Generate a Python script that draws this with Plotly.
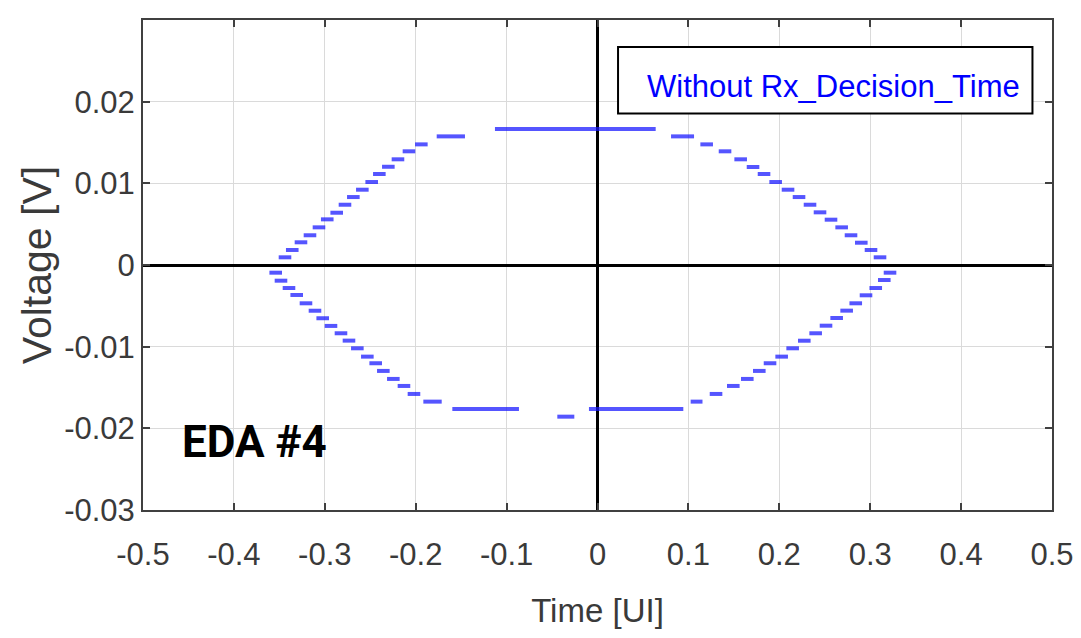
import plotly.graph_objects as go

# ---- data ----
upper_left_x = [-0.3438, -0.3358, -0.3262, -0.3163, -0.3064, -0.2973, -0.2869, -0.2778,
                -0.2686, -0.2587, -0.2484, -0.2400, -0.2301, -0.2195, -0.2074, -0.1938]
upper_left_y = [0.00094, 0.00184, 0.00278, 0.00364, 0.00461, 0.00559, 0.00640, 0.00738,
                0.00832, 0.00922, 0.01016, 0.01114, 0.01203, 0.01294, 0.01392, 0.01477]

upper_right_x = [0.1201, 0.1403, 0.1575, 0.1711, 0.1832, 0.1960, 0.2096, 0.2217,
                 0.2338, 0.2448, 0.2569, 0.2686, 0.2789, 0.2902, 0.3009, 0.3108]
upper_right_y = [0.01477, 0.01392, 0.01294, 0.01200, 0.01114, 0.01016, 0.00922, 0.00832,
                 0.00738, 0.00645, 0.00555, 0.00461, 0.00364, 0.00273, 0.00184, 0.00094]

lower_left_x = [-0.3540, -0.3482, -0.3394, -0.3309, -0.3207, -0.3108, -0.3023, -0.2932, -0.2822,
                -0.2734, -0.2642, -0.2532, -0.2440, -0.2356, -0.2246, -0.2129, -0.2019]
lower_left_y = [-0.00094, -0.00192, -0.00282, -0.00367, -0.00469, -0.00560, -0.00652, -0.00746, -0.00836,
                -0.00926, -0.01020, -0.01122, -0.01203, -0.01297, -0.01395, -0.01481, -0.01579]

lower_right_x = [0.1304, 0.1494, 0.1648, 0.1780, 0.1898, 0.2026, 0.2147, 0.2275, 0.2400,
                 0.2514, 0.2631, 0.2741, 0.2841, 0.2954, 0.3061, 0.3155, 0.3218]
lower_right_y = [-0.01579, -0.01481, -0.01395, -0.01297, -0.01203, -0.01122, -0.01020, -0.00927, -0.00836,
                 -0.00743, -0.00649, -0.00559, -0.00469, -0.00371, -0.00282, -0.00184, -0.00094]

# flat (horizontal) runs of the eye contour: start time, end time, voltage
seg_x0 = [-0.1769, -0.1128, 0.0809, -0.1916, -0.1597, -0.0442, -0.0094, 0.1025]
seg_x1 = [-0.1458, 0.0640, 0.1062, -0.1714, -0.0864, -0.0255, 0.0944, 0.1155]
seg_y = [0.01575, 0.01665, 0.01575, -0.01673, -0.01763, -0.01857, -0.01763, -0.01673]

x_tick_vals = [-0.5, -0.4, -0.3, -0.2, -0.1, 0, 0.1, 0.2, 0.3, 0.4, 0.5]
x_tick_text = ["-0.5", "-0.4", "-0.3", "-0.2", "-0.1", "0", "0.1", "0.2", "0.3", "0.4", "0.5"]
y_tick_vals = [-0.03, -0.02, -0.01, 0, 0.01, 0.02]
y_tick_text = ["-0.03", "-0.02", "-0.01", "0", "0.01", "0.02"]

legend_text = "Without Rx_Decision_Time"
label_text = "EDA #4"

# ---- figure ----
EYE = "rgba(20,20,255,0.72)"
FONT = "Liberation Sans, Arial, sans-serif"
AX = "#404040"
TXT = "#3a3a3a"

dots_x = upper_left_x + upper_right_x + lower_left_x + lower_right_x
dots_y = upper_left_y + upper_right_y + lower_left_y + lower_right_y

seg_px, seg_py = [], []
for a, b, v in zip(seg_x0, seg_x1, seg_y):
    seg_px += [a, b, None]
    seg_py += [v, v, None]

fig = go.Figure()
fig.add_trace(go.Scatter(
    x=dots_x, y=dots_y, mode="markers",
    marker=dict(symbol="line-ew", size=9, line=dict(color=EYE, width=4)),
    showlegend=False, hoverinfo="skip"))
fig.add_trace(go.Scatter(
    x=seg_px, y=seg_py, mode="lines",
    line=dict(color=EYE, width=4),
    showlegend=False, hoverinfo="skip"))

axis_common = dict(
    automargin=False,
    showgrid=True, gridcolor="#dadada", gridwidth=1,
    zeroline=True, zerolinecolor="black", zerolinewidth=2.5,
    showline=True, linecolor=AX, linewidth=2, mirror="ticks",
    ticks="inside", ticklen=7, tickwidth=1.5, tickcolor=AX,
    tickfont=dict(family=FONT, size=31, color=TXT),
)

fig.update_layout(
    width=1081, height=638,
    margin=dict(l=143, r=29, t=20, b=128),
    paper_bgcolor="white", plot_bgcolor="white",
    xaxis=dict(range=[-0.5, 0.5], tickmode="array", tickvals=x_tick_vals, ticktext=x_tick_text,
               ticklabelstandoff=16,
               title=dict(text="Time [UI]", font=dict(family=FONT, size=33, color=TXT), standoff=28),
               **axis_common),
    yaxis=dict(range=[-0.03, 0.03], tickmode="array", tickvals=y_tick_vals, ticktext=y_tick_text,
               title=dict(text="Voltage [V]", font=dict(family=FONT, size=41, color=TXT), standoff=0),
               **axis_common),
    shapes=[dict(type="rect", xref="x", yref="y", x0=0.0226, x1=0.4785, y0=0.01855, y1=0.02668,
                 line=dict(color="black", width=2), fillcolor="white", layer="above")],
    annotations=[
        dict(text=legend_text, xref="x", yref="y", x=0.4675, y=0.0218, xanchor="right", yanchor="middle",
             showarrow=False, font=dict(family=FONT, size=31, color="#0000ff")),
        dict(text="<b>" + label_text + "</b>", xref="x", yref="y", x=-0.3768, y=-0.02166,
             xanchor="center", yanchor="middle", showarrow=False,
             font=dict(family="Roboto, sans-serif", size=44, color="black")),
    ],
)

fig.write_html("out.html")
